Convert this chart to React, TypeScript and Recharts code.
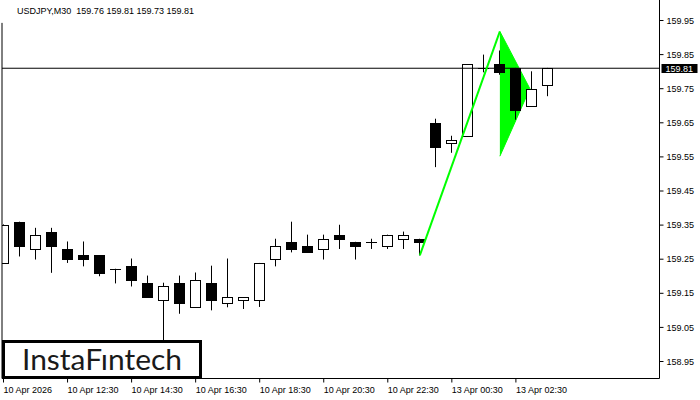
import { Area, Bar, ComposedChart, Line, ReferenceLine, XAxis, YAxis } from "recharts"

// USDJPY M30 candles
const opens = [
  159.24, 159.36, 159.28, 159.331, 159.281, 159.261, 159.261, 159.222, 159.23, 159.181,
  159.131, 159.181, 159.109, 159.181, 159.122, 159.131, 159.131, 159.251, 159.301, 159.29,
  159.28, 159.322, 159.301, 159.301, 159.29, 159.31, 159.31, 159.65, 159.591, 159.61,
  159.81, 159.821, 159.811, 159.698, 159.76,
]
const highs = [
  159.352, 159.36, 159.342, 159.342, 159.302, 159.302, 159.261, 159.222, 159.252, 159.202,
  159.181, 159.202, 159.211, 159.231, 159.252, 159.139, 159.239, 159.31, 159.36, 159.322,
  159.322, 159.351, 159.301, 159.31, 159.322, 159.331, 159.31, 159.662, 159.612, 159.821,
  159.85, 159.862, 159.811, 159.801, 159.811,
]
const lows = [
  159.238, 159.258, 159.249, 159.21, 159.239, 159.229, 159.2, 159.179, 159.17, 159.138,
  159.01, 159.09, 159.109, 159.1, 159.109, 159.104, 159.11, 159.229, 159.27, 159.27,
  159.249, 159.28, 159.249, 159.28, 159.28, 159.28, 159.261, 159.52, 159.562, 159.61,
  159.798, 159.791, 159.659, 159.698, 159.728,
]
const closes = [
  159.35, 159.288, 159.322, 159.288, 159.25, 159.25, 159.209, 159.222, 159.188, 159.138,
  159.172, 159.121, 159.189, 159.13, 159.139, 159.139, 159.239, 159.29, 159.28, 159.27,
  159.31, 159.31, 159.29, 159.301, 159.322, 159.322, 159.301, 159.578, 159.6, 159.821,
  159.81, 159.798, 159.689, 159.75, 159.811,
]

const timeTicks = [0, 4, 8, 12, 16, 20, 24, 28, 32]
const timeLabels = [
  "10 Apr 2026", "10 Apr 12:30", "10 Apr 14:30", "10 Apr 16:30", "10 Apr 18:30",
  "10 Apr 20:30", "10 Apr 22:30", "13 Apr 00:30", "13 Apr 02:30",
]
const priceTicks = [158.95, 159.05, 159.15, 159.25, 159.35, 159.45, 159.55, 159.65, 159.75, 159.85, 159.95]
const lastPrice = 159.81
const title = "USDJPY,M30  159.76 159.81 159.73 159.81"

// bullish pennant: pole + flag
const poleX = [26, 31]
const polePrice = [159.261, 159.918]
const flagX = [31, 32.875]
const flagLow = [159.552, 159.75]
const flagHigh = [159.918, 159.75]

const candles = opens.map((o, i) => ({ i, open: o, high: highs[i], low: lows[i], close: closes[i] }))
const pole = poleX.map((i, k) => ({ i, price: polePrice[k] }))
const flag = flagX.map((i, k) => ({ i, range: [flagLow[k], flagHigh[k]] }))

const X_DOMAIN = [-0.09375, 40.96875]
const Y_DOMAIN = [158.90015, 160.01012]
const FONT = "'Liberation Sans', Arial, sans-serif"

function Candle(props: any) {
  const { x, y, width, height, payload } = props
  if (payload == null || height == null) return null
  const { open, close, high, low } = payload
  const col = Math.floor(x + width / 2)
  const k = height / (high - low)
  const yOf = (v: number) => y + (high - v) * k
  const top = Math.round(yOf(Math.max(open, close)))
  const bot = Math.round(yOf(Math.min(open, close)))
  let body
  if (open === close) {
    body = <line x1={col - 5} x2={col + 6} y1={top + 0.5} y2={top + 0.5} stroke="#000" />
  } else if (close > open) {
    body = <rect x={col - 4.5} y={top + 0.5} width={10} height={Math.max(1, bot - top)} fill="#fff" stroke="#000" />
  } else {
    body = <rect x={col - 5} y={top} width={11} height={Math.max(1, bot - top + 1)} fill="#000" />
  }
  return (
    <g>
      <line x1={col + 0.5} x2={col + 0.5} y1={y} y2={y + height} stroke="#000" />
      {body}
    </g>
  )
}

function PriceTick({ x, y, payload }: any) {
  return (
    <text x={x} y={y} dy="0.35em" textAnchor="start" fontSize={9} fontFamily={FONT} fill="#000">
      {Number(payload.value).toFixed(2)}
    </text>
  )
}

function TimeTick({ x, y, payload }: any) {
  const idx = timeTicks.indexOf(payload.value)
  return (
    <text x={x} y={y + 8} textAnchor="start" fontSize={9} fontFamily={FONT} fill="#000">
      {timeLabels[idx]}
    </text>
  )
}

function PriceTag({ viewBox }: any) {
  if (!viewBox) return null
  const x = viewBox.x + viewBox.width + 2
  const y = Math.round(viewBox.y)
  return (
    <g>
      <rect x={x} y={y - 4} width={36} height={9} fill="#000" />
      <text x={x + 4} y={y + 0.5} dy="0.35em" fontSize={9} fontFamily={FONT} fill="#fff">
        {lastPrice.toFixed(2)}
      </text>
    </g>
  )
}

export default function App() {
  return (
    <div style={{ position: "relative", width: 700, height: 400, background: "#fff" }}>
      <style>{"body{margin:0}"}</style>
      <ComposedChart width={700} height={400} data={candles} margin={{ top: 0, right: 0, bottom: 0, left: 2 }}>
        <XAxis
          dataKey="i"
          type="number"
          domain={X_DOMAIN}
          allowDataOverflow
          ticks={timeTicks}
          interval={0}
          height={21.5}
          tickSize={4}
          tickMargin={2}
          stroke="#000"
          tick={<TimeTick />}
        />
        <YAxis
          orientation="right"
          type="number"
          domain={Y_DOMAIN}
          allowDataOverflow
          ticks={priceTicks}
          interval={0}
          width={40.5}
          tickSize={4}
          tickMargin={3}
          stroke="#000"
          tick={<PriceTick />}
        />
        <ReferenceLine
          segment={[{ x: X_DOMAIN[0], y: 159.943 }, { x: X_DOMAIN[0], y: Y_DOMAIN[0] }]}
          stroke="#000"
        />
        <Area
          data={flag}
          dataKey="range"
          type="linear"
          fill="#00ff00"
          fillOpacity={1}
          stroke="#00ff00"
          strokeWidth={1}
          isAnimationActive={false}
          dot={false}
          activeDot={false}
        />
        <ReferenceLine y={lastPrice} stroke="#000" label={<PriceTag />} />
        <Bar
          dataKey={(d: any) => [d.low, d.high]}
          barSize={11}
          shape={<Candle />}
          isAnimationActive={false}
        />
        <Line
          data={pole}
          dataKey="price"
          type="linear"
          stroke="#00ff00"
          strokeWidth={2}
          dot={false}
          activeDot={false}
          isAnimationActive={false}
        />
      </ComposedChart>
      <div
        style={{
          position: "absolute",
          left: 17,
          top: 6,
          fontFamily: FONT,
          fontSize: 9,
          whiteSpace: "pre",
          color: "#000",
          lineHeight: "10px",
        }}
      >
        {title}
      </div>
      <div
        style={{
          position: "absolute",
          left: 2,
          top: 340,
          width: 200,
          height: 39,
          boxSizing: "border-box",
          border: "3px solid #000",
          background: "#fff",
        }}
      >
        <svg width={194} height={33} style={{ display: "block" }}>
          <text
            x={17}
            y={26.5}
            fontSize={28}
            fontFamily="Lato, 'Open Sans', sans-serif"
            fill="#1a1a1a"
            textLength={160}
            lengthAdjust="spacingAndGlyphs"
          >
            InstaFıntech
          </text>
        </svg>
      </div>
    </div>
  )
}
